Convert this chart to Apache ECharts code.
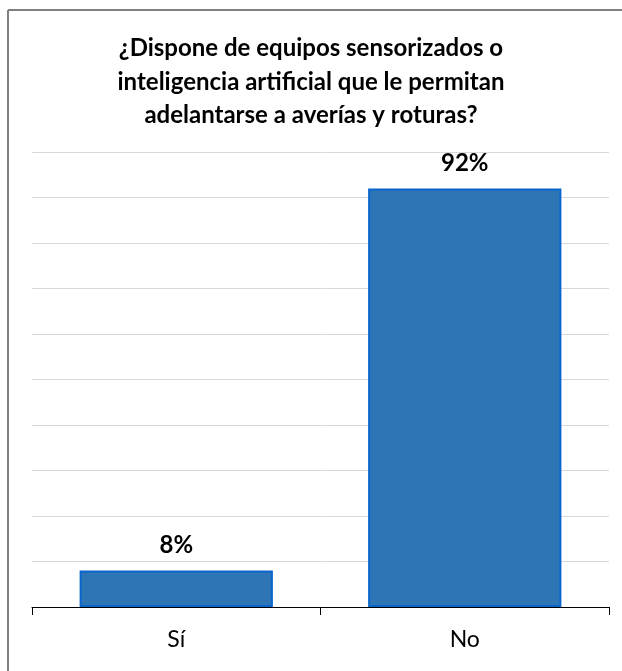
<!DOCTYPE html>
<html>
<head>
<meta charset="utf-8">
<script src="https://cdn.jsdelivr.net/npm/echarts@6/dist/echarts.min.js"></script>
<style>
  html, body { margin: 0; padding: 0; background: #fff; }
  #chart { width: 622px; height: 671px; }
</style>
</head>
<body>
<div id="chart"></div>
<script>
// Survey answers: predictive maintenance equipment
const categories = ['Sí', 'No'];
const shares = [8, 92];
const titleText = '¿Dispone de equipos sensorizados o\ninteligencia artificial que le permitan\nadelantarse a averías y roturas?';

const chart = echarts.init(document.getElementById('chart'), null, { renderer: 'canvas' });
const font = 'Lato, "Open Sans", "DejaVu Sans", sans-serif';

chart.setOption({
  backgroundColor: '#ffffff',
  animation: false,
  title: {
    text: titleText,
    left: 'center',
    top: 27,
    textStyle: {
      fontFamily: font,
      fontWeight: 'bold',
      fontSize: 24,
      lineHeight: 33.5,
      color: '#000000'
    }
  },
  graphic: [
    { type: 'line', shape: { x1: 8, y1: 10, x2: 622, y2: 10 }, style: { stroke: '#808080', lineWidth: 2 } },
    { type: 'line', shape: { x1: 8, y1: 10, x2: 8, y2: 671 }, style: { stroke: '#808080', lineWidth: 2 } }
  ],
  grid: { left: 32, right: 13, top: 152, bottom: 64, containLabel: false },
  xAxis: {
    type: 'category',
    data: categories,
    axisLine: { lineStyle: { color: '#000000', width: 1 } },
    axisTick: { show: true, length: 8, lineStyle: { color: '#000000' } },
    axisLabel: { fontFamily: font, fontSize: 23, color: '#000000', margin: 21 }
  },
  yAxis: {
    type: 'value',
    min: 0,
    max: 100,
    interval: 10,
    axisLine: { show: false },
    axisTick: { show: false },
    axisLabel: { show: false },
    splitLine: { lineStyle: { color: '#d9d9d9', width: 1 } }
  },
  series: [{
    type: 'bar',
    data: shares,
    barWidth: '67%',
    itemStyle: { color: '#2E75B6', borderColor: '#0A66CC', borderWidth: 2 },
    label: {
      show: true,
      position: 'top',
      distance: 13,
      formatter: '{c}%',
      fontFamily: font,
      fontWeight: 'bold',
      fontSize: 24,
      color: '#000000'
    }
  }]
});
</script>
</body>
</html>
